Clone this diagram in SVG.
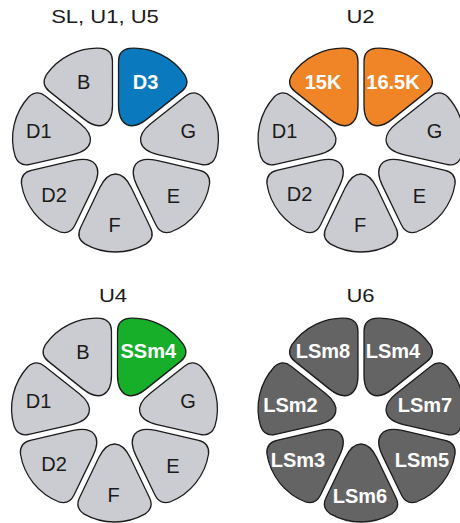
<svg xmlns="http://www.w3.org/2000/svg" xmlns:xlink="http://www.w3.org/1999/xlink" width="460" height="523" viewBox="0 0 460 523">
<defs>
<path id="petal" d="M 40 15.94 L 79.7 35 Q 89.6 39.8 95.85 30.7 A 62 62 0 0 0 95.85 -30.7 Q 89.6 -39.8 79.7 -35 L 40 -15.94 Q 26 -9.2 26 0 Q 26 9.2 40 15.94 Z"/>
</defs>
<style>
use{stroke:#1c1c1c;stroke-width:1.3;stroke-linejoin:round}
.gr{fill:#cbccd1}
.bl{fill:#0a79bd}
.or{fill:#f08528}
.gn{fill:#17ae29}
.dk{fill:#646464}
text{font-family:"Liberation Sans",Arial,sans-serif;font-size:20px;text-anchor:middle}
.t{fill:#1a1a1a}
.w{fill:#ffffff;font-weight:bold}
.title{font-size:19px;fill:#1a1a1a}
</style>
<rect width="460" height="523" fill="#ffffff"/>

<g id="flower1">
<text class="title" transform="translate(105,22.7) scale(1.16,1)">SL, U1, U5</text>
<g id="f1-B"><use xlink:href="#petal" class="gr" transform="translate(115.5,148) rotate(-115.714)"/><text class="t" x="83.7" y="89.3">B</text></g>
<g id="f1-D3"><use xlink:href="#petal" class="bl" transform="translate(115.5,148) rotate(-64.286)"/><text class="w" x="145.5" y="89.3">D3</text></g>
<g id="f1-G"><use xlink:href="#petal" class="gr" transform="translate(115.5,148) rotate(-12.857)"/><text class="t" x="188.3" y="138.3">G</text></g>
<g id="f1-E"><use xlink:href="#petal" class="gr" transform="translate(115.5,148) rotate(38.571)"/><text class="t" x="173.3" y="203.3">E</text></g>
<g id="f1-F"><use xlink:href="#petal" class="gr" transform="translate(115.5,148) rotate(90)"/><text class="t" x="114.5" y="231.7">F</text></g>
<g id="f1-D2"><use xlink:href="#petal" class="gr" transform="translate(115.5,148) rotate(141.429)"/><text class="t" x="54" y="201.7">D2</text></g>
<g id="f1-D1"><use xlink:href="#petal" class="gr" transform="translate(115.5,148) rotate(192.857)"/><text class="t" x="38.8" y="138.3">D1</text></g>
</g>

<g id="flower2">
<text class="title" transform="translate(360.5,22.7) scale(1.16,1)">U2</text>
<g id="f2-15K"><use xlink:href="#petal" class="or" transform="translate(361,148) rotate(-115.714)"/><text class="w" x="323" y="88.5">15K</text></g>
<g id="f2-16.5K"><use xlink:href="#petal" class="or" transform="translate(361,148) rotate(-64.286)"/><text class="w" x="393" y="88.5">16.5K</text></g>
<g id="f2-G"><use xlink:href="#petal" class="gr" transform="translate(361,148) rotate(-12.857)"/><text class="t" x="434.5" y="138">G</text></g>
<g id="f2-E"><use xlink:href="#petal" class="gr" transform="translate(361,148) rotate(38.571)"/><text class="t" x="419.5" y="203.3">E</text></g>
<g id="f2-F"><use xlink:href="#petal" class="gr" transform="translate(361,148) rotate(90)"/><text class="t" x="360" y="231.7">F</text></g>
<g id="f2-D2"><use xlink:href="#petal" class="gr" transform="translate(361,148) rotate(141.429)"/><text class="t" x="299.5" y="201.2">D2</text></g>
<g id="f2-D1"><use xlink:href="#petal" class="gr" transform="translate(361,148) rotate(192.857)"/><text class="t" x="284.5" y="137.8">D1</text></g>
</g>

<g id="flower3">
<text class="title" transform="translate(113,301.7) scale(1.16,1)">U4</text>
<g id="f3-B"><use xlink:href="#petal" class="gr" transform="translate(114.5,418) rotate(-115.714)"/><text class="t" x="83" y="358.8">B</text></g>
<g id="f3-SSm4"><use xlink:href="#petal" class="gn" transform="translate(114.5,418) rotate(-64.286)"/><text class="w" x="148.3" y="358.3">SSm4</text></g>
<g id="f3-G"><use xlink:href="#petal" class="gr" transform="translate(114.5,418) rotate(-12.857)"/><text class="t" x="188" y="407.8">G</text></g>
<g id="f3-E"><use xlink:href="#petal" class="gr" transform="translate(114.5,418) rotate(38.571)"/><text class="t" x="173" y="473">E</text></g>
<g id="f3-F"><use xlink:href="#petal" class="gr" transform="translate(114.5,418) rotate(90)"/><text class="t" x="113.5" y="501.7">F</text></g>
<g id="f3-D2"><use xlink:href="#petal" class="gr" transform="translate(114.5,418) rotate(141.429)"/><text class="t" x="54" y="471">D2</text></g>
<g id="f3-D1"><use xlink:href="#petal" class="gr" transform="translate(114.5,418) rotate(192.857)"/><text class="t" x="38.5" y="407.8">D1</text></g>
</g>

<g id="flower4">
<text class="title" transform="translate(360.5,301.7) scale(1.16,1)">U6</text>
<g id="f4-LSm8"><use xlink:href="#petal" class="dk" transform="translate(361,418) rotate(-115.714)"/><text class="w" x="323" y="357.5">LSm8</text></g>
<g id="f4-LSm4"><use xlink:href="#petal" class="dk" transform="translate(361,418) rotate(-64.286)"/><text class="w" x="393" y="357.5">LSm4</text></g>
<g id="f4-LSm7"><use xlink:href="#petal" class="dk" transform="translate(361,418) rotate(-12.857)"/><text class="w" x="425" y="412.3">LSm7</text></g>
<g id="f4-LSm5"><use xlink:href="#petal" class="dk" transform="translate(361,418) rotate(38.571)"/><text class="w" x="422" y="467">LSm5</text></g>
<g id="f4-LSm6"><use xlink:href="#petal" class="dk" transform="translate(361,418) rotate(90)"/><text class="w" x="360" y="503">LSm6</text></g>
<g id="f4-LSm3"><use xlink:href="#petal" class="dk" transform="translate(361,418) rotate(141.429)"/><text class="w" x="298" y="467">LSm3</text></g>
<g id="f4-LSm2"><use xlink:href="#petal" class="dk" transform="translate(361,418) rotate(192.857)"/><text class="w" x="290.5" y="412.3">LSm2</text></g>
</g>

<g id="connectors"/>
</svg>
